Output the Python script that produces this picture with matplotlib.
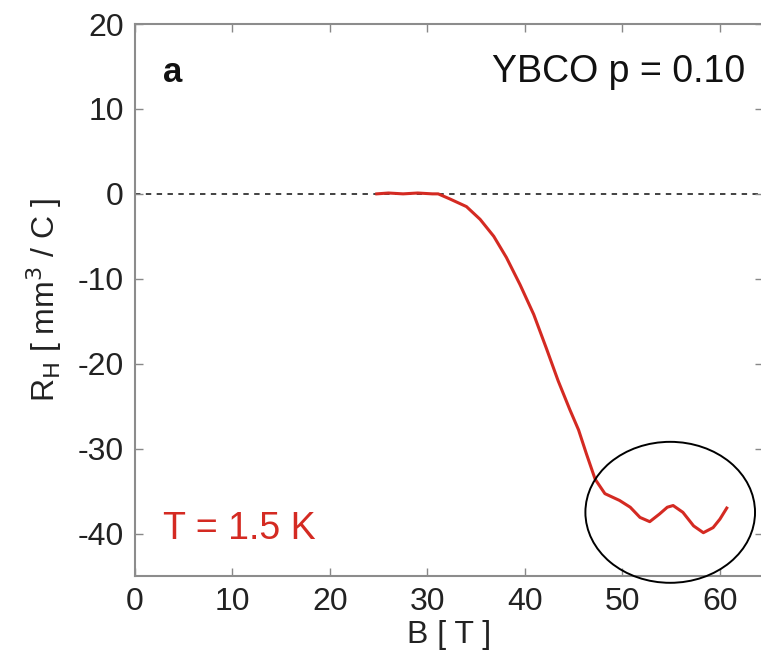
import numpy as np
import matplotlib.pyplot as plt
from matplotlib.patches import Ellipse

plt.rcParams['font.family'] = ['Liberation Sans', 'DejaVu Sans']
plt.rcParams['axes.unicode_minus'] = False

# data
B = [24.8, 26.0, 27.5, 29.0, 30.5, 31.1, 32.3, 34.0, 35.4, 36.8, 38.1, 39.5, 40.9,
     42.2, 43.4, 44.6, 45.5, 46.3, 47.2, 48.2, 49.7, 50.8, 51.8, 52.8, 53.8, 54.6,
     55.2, 56.2, 57.3, 58.3, 59.3, 60.0, 60.7]
RH = [0.0, 0.1, 0.0, 0.1, 0.0, 0.0, -0.6, -1.5, -3.0, -5.0, -7.5, -10.7, -14.2,
      -18.2, -22.0, -25.4, -27.8, -30.6, -33.6, -35.3, -36.1, -36.9, -38.1, -38.6,
      -37.7, -36.9, -36.7, -37.5, -39.1, -39.9, -39.3, -38.3, -37.0]

fig = plt.figure(figsize=(7.61, 6.58), dpi=100)
ax = fig.add_axes([0.1774, 0.1246, 0.8250, 0.8389])

ax.axhline(0, color='#333333', lw=1.3, ls=(0, (3, 3)), zorder=1)
ax.plot(B, RH, color='#d42a22', lw=2.2, zorder=3, solid_joinstyle='round')

ax.set_xlim(0, 64.4)
ax.set_ylim(-45, 20)
ax.set_xticks(np.arange(0, 61, 10))
ax.set_yticks(np.arange(-40, 21, 10))
ax.tick_params(direction='in', top=True, right=True, length=6, width=1,
               color='#888888', labelsize=23, pad=8, labelcolor='#222222')
for s in ax.spines.values():
    s.set_color('#8c8c8c')
    s.set_linewidth(1.5)

ax.set_xlabel('B [ T ]', fontsize=23, color='#222222', labelpad=2)
ax.set_ylabel(r'R$_{\rm H}$ [ mm$^3$ / C ]', fontsize=23, color='#222222', labelpad=10)

ax.text(2.9, 14.3, 'a', fontsize=25, fontweight='bold', va='center', ha='left', color='#111111')
ax.text(62.6, 14.3, 'YBCO p = 0.10', fontsize=27, va='center', ha='right', color='#111111')
ax.text(2.9, -39.5, 'T = 1.5 K', fontsize=27, va='center', ha='left', color='#d42a22')

ax.add_patch(Ellipse((54.9, -37.5), 17.4, 16.6, fill=False, edgecolor='black',
                     lw=1.4, clip_on=False, zorder=4))

fig.savefig('out.png', dpi=100)
